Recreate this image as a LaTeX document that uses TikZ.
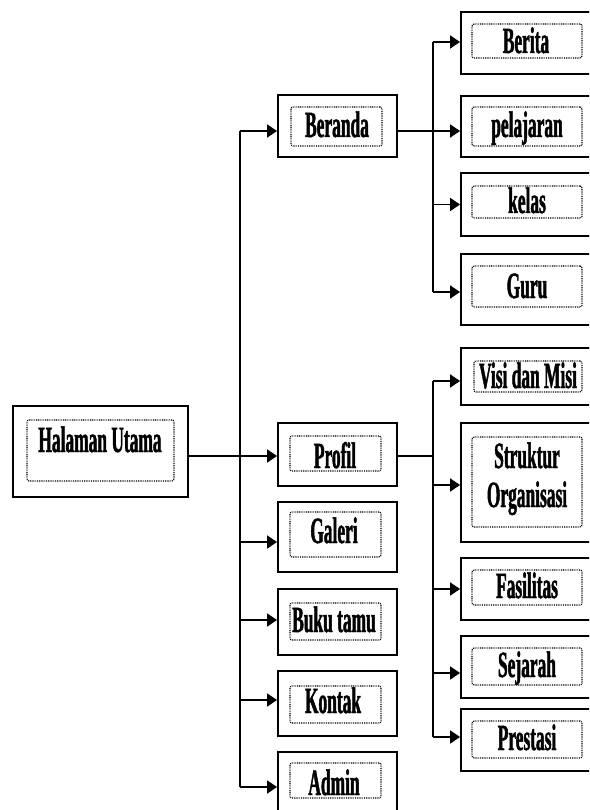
\documentclass[tikz,border=0pt]{standalone}
\usepackage{fontspec}
\setmainfont{Liberation Serif}[FakeStretch=0.47,FakeBold=1.2]
\usetikzlibrary{arrows.meta}
\begin{document}
\begin{tikzpicture}[x=1pt,y=-1pt,
  obox/.style={draw, line width=1.8pt, inner sep=0pt},
  ibox/.style={draw, dash pattern=on 0.9pt off 0.9pt, line width=1.1pt, rounded corners=2pt, inner sep=0pt},
  lbl/.style={font=\fontsize{37}{42}\selectfont\bfseries, anchor=base, inner sep=0pt},
  conn/.style={line width=1.5pt},
  arr/.style={line width=1.5pt, -{Triangle[length=10pt,width=13pt]}}]
\useasboundingbox (0,0) rectangle (589,810);
\clip (0,0) rectangle (589,810);
% Halaman Utama
\node[obox, minimum width=175pt, minimum height=91pt] (hu) at (100.5,451.5) {};
\node[ibox, minimum width=147pt, minimum height=61pt] (huI) at (100.5,450.5) {};
\node[lbl] (huT) at (100,452) {Halaman Utama};
% middle column
\node[obox, minimum width=119pt, minimum height=62pt] (be) at (337.5,126) {};
\node[ibox, minimum width=91pt, minimum height=39pt] (beI) at (336.5,126.5) {};
\node[lbl] (beT) at (337,137) {Beranda};
\node[obox, minimum width=119pt, minimum height=63pt] (pr) at (337.5,454.5) {};
\node[ibox, minimum width=91pt, minimum height=35pt] (prI) at (335.5,453.5) {};
\node[lbl] (prT) at (335,468) {Profil};
\node[obox, minimum width=119pt, minimum height=70pt] (ga) at (337.5,537) {};
\node[ibox, minimum width=91pt, minimum height=45pt] (gaI) at (335.5,534.5) {};
\node[lbl] (gaT) at (334,543) {Galeri};
\node[obox, minimum width=119pt, minimum height=66pt] (bt) at (337.5,622) {};
\node[ibox, minimum width=91pt, minimum height=37pt] (btI) at (335.5,621.5) {};
\node[lbl] (btT) at (334,632) {Buku tamu};
\node[obox, minimum width=119pt, minimum height=65pt] (ko) at (337.5,703.5) {};
\node[ibox, minimum width=91pt, minimum height=37pt] (koI) at (335.5,704.5) {};
\node[lbl] (koT) at (333,713) {Kontak};
\node[obox, minimum width=119pt, minimum height=68pt] (ad) at (337.5,786) {};
\node[ibox, minimum width=91pt, minimum height=35pt] (adI) at (335.5,780.5) {};
\node[lbl] (adT) at (334,795) {Admin};
% right column
\node[obox, minimum width=139pt, minimum height=62pt] (bri) at (530.5,43) {};
\node[ibox, minimum width=110pt, minimum height=34pt] (briI) at (527,41) {};
\node[lbl] (briT) at (526,53) {Berita};
\node[obox, minimum width=139pt, minimum height=61pt] (pe) at (530.5,126.5) {};
\node[ibox, minimum width=110pt, minimum height=39pt] (peI) at (527,126.5) {};
\node[lbl] (peT) at (527,137) {pelajaran};
\node[obox, minimum width=139pt, minimum height=63pt] (ke) at (530.5,204.5) {};
\node[ibox, minimum width=110pt, minimum height=32pt] (keI) at (527,202) {};
\node[lbl] (keT) at (527,213) {kelas};
\node[obox, minimum width=139pt, minimum height=71pt] (gu) at (530.5,289.5) {};
\node[ibox, minimum width=110pt, minimum height=41pt] (guI) at (527,286.5) {};
\node[lbl] (guT) at (527,298) {Guru};
\node[obox, minimum width=139pt, minimum height=57pt] (vi) at (530.5,376.5) {};
\node[ibox, minimum width=108pt, minimum height=31pt] (viI) at (528,376.5) {};
\node[lbl] (viT) at (528,388) {Visi dan Misi};
\node[obox, minimum width=139pt, minimum height=119pt] (so) at (530.5,482.5) {};
\node[ibox, minimum width=110pt, minimum height=90pt] (soI) at (527,482) {};
\node[lbl] (soT1) at (527,468) {Struktur};
\node[lbl] (soT2) at (527,507) {Organisasi};
\node[obox, minimum width=139pt, minimum height=62pt] (fa) at (530.5,589) {};
\node[ibox, minimum width=110pt, minimum height=35pt] (faI) at (527,587.5) {};
\node[lbl] (faT) at (527,598) {Fasilitas};
\node[obox, minimum width=139pt, minimum height=62pt] (se) at (530.5,667) {};
\node[ibox, minimum width=110pt, minimum height=37pt] (seI) at (527,666.5) {};
\node[lbl] (seT) at (527,677) {Sejarah};
\node[obox, minimum width=139pt, minimum height=62pt] (ps) at (530.5,740) {};
\node[ibox, minimum width=110pt, minimum height=37pt] (psI) at (527,739.5) {};
\node[lbl] (psT) at (527,750) {Prestasi};
% arrow target points
\coordinate (beA) at ([yshift=-5pt]be.west);
\coordinate (prA) at ([yshift=-1.5pt]pr.west);
\coordinate (gaA) at ([yshift=-5pt]ga.west);
\coordinate (btA) at ([yshift=2pt]bt.west);
\coordinate (koA) at ([yshift=3.5pt]ko.west);
\coordinate (adA) at ([yshift=-1pt]ad.west);
\coordinate (briA) at ([yshift=1pt]bri.west);
\coordinate (peA) at ([yshift=-4.5pt]pe.west);
\coordinate (keA) at (ke.west);
\coordinate (guA) at ([yshift=-2.5pt]gu.west);
\coordinate (viA) at ([yshift=-4.5pt]vi.west);
\coordinate (soA) at ([yshift=-2.5pt]so.west);
\coordinate (faA) at (fa.west);
\coordinate (seA) at ([yshift=-6pt]se.west);
\coordinate (psA) at ([yshift=3pt]ps.west);
% trunk
\coordinate (tr) at (240,0);
\coordinate (b1) at (433,0);
\draw[conn] (beA -| tr) -- (adA -| tr);
\draw[arr] (prA -| hu.east) -- (prA);
\foreach \t in {beA,gaA,btA,koA,adA} \draw[arr] (\t -| tr) -- (\t);
% Beranda branch
\draw[arr] (beA -| be.east) -- (peA);
\draw[conn] (briA -| b1) -- (guA -| b1);
\foreach \t in {briA,keA,guA} \draw[arr] (\t -| b1) -- (\t);
% Profil branch
\draw[conn] (prA -| pr.east) -- (prA -| b1);
\draw[conn] (viA -| b1) -- (psA -| b1);
\foreach \t in {viA,soA,faA,seA,psA} \draw[arr] (\t -| b1) -- (\t);
\end{tikzpicture}
\end{document}
